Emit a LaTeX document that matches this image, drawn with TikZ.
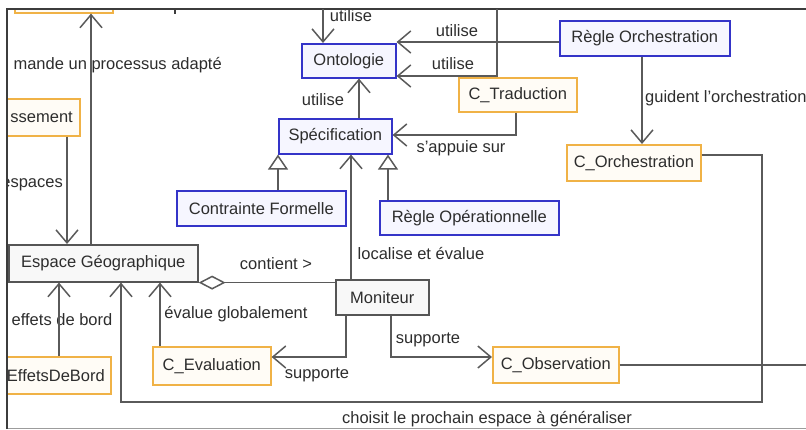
\documentclass[tikz,border=0pt]{standalone}
\usepackage{fontspec}
\setmainfont{Liberation Sans}
\usetikzlibrary{arrows.meta}
\definecolor{blueC}{RGB}{52,52,200}
\definecolor{blueF}{RGB}{246,246,255}
\definecolor{oraC}{RGB}{240,178,70}
\definecolor{oraF}{RGB}{255,252,246}
\definecolor{grayC}{RGB}{85,85,85}
\definecolor{grayF}{RGB}{248,248,248}
\definecolor{lineC}{RGB}{90,90,90}
\definecolor{textC}{RGB}{45,45,45}
\definecolor{frameC}{RGB}{60,60,60}
\tikzset{
  box/.style={draw, line width=1.6pt, inner xsep=7pt, inner ysep=0pt, anchor=north west, text=textC},
  bluebox/.style={box, draw=blueC, fill=blueF},
  orabox/.style={box, draw=oraC, fill=oraF},
  graybox/.style={box, draw=grayC, fill=grayF},
  conn/.style={draw=lineC, line width=1.5pt},
  arr/.style={conn, -{Straight Barb[length=13pt,width=22pt]}},
  inh/.style={conn, -{Triangle[length=15pt,width=20pt,fill=white]}},
  lbl/.style={text=textC, inner sep=0pt}
}
\begin{document}
\begin{tikzpicture}[x=1pt,y=-1pt,font=\fontsize{16.5}{19}\selectfont]
\useasboundingbox (0,0) rectangle (806,429);
% helper coordinates
\coordinate (x59) at (59,0);
\coordinate (x67) at (67,0);
\coordinate (x91) at (91,0);
\coordinate (x121) at (121,0);
\coordinate (x160) at (160,0);
\coordinate (x278) at (278,0);
\coordinate (x323) at (323,0);
\coordinate (x346) at (346,0);
\coordinate (x351) at (351,0);
\coordinate (x359) at (359,0);
\coordinate (x388) at (388,0);
\coordinate (x391) at (391,0);
\coordinate (x497) at (497,0);
\coordinate (x516) at (516,0);
\coordinate (x642) at (642,0);
\coordinate (x762) at (762,0);
\coordinate (x806) at (806,0);
\coordinate (y9) at (0,9);
\coordinate (y42) at (0,42);
\coordinate (y76) at (0,76);
\coordinate (y135) at (0,135);
\coordinate (y155) at (0,155);
\coordinate (y357) at (0,357);
\coordinate (y402) at (0,402);

\begin{scope}
\clip (8,9) rectangle (806,429);
% boxes
\node[orabox, minimum width=98pt, minimum height=42pt] (topbox) at (14,-30) {};
\node[orabox, text width=85pt, align=right, minimum height=37pt] (ssement) at (-20,98) {ssement};
\node[orabox, text width=108pt, align=right, minimum height=37pt, inner xsep=6pt] (effets) at (-10,356) {EffetsDeBord};
\node[graybox, minimum width=189pt, minimum height=37pt] (espace) at (8,244) {Espace Géographique};
\node[graybox, minimum width=93pt, minimum height=35pt] (moniteur) at (335,279) {Moniteur};
\node[bluebox, minimum width=169pt, minimum height=35pt] (contrainte) at (176,190) {Contrainte Formelle};
\node[bluebox, minimum width=113pt, minimum height=35pt] (spec) at (278,118) {Spécification};
\node[bluebox, minimum width=94pt, minimum height=34pt] (onto) at (301,43) {Ontologie};
\node[bluebox, minimum width=179pt, minimum height=34pt] (regop) at (379,200) {Règle Opérationnelle};
\node[bluebox, minimum width=170pt, minimum height=35pt] (regorch) at (559,20) {Règle Orchestration};
\node[orabox, minimum width=118pt, minimum height=34pt] (ctrad) at (458,77) {C\_Traduction};
\node[orabox, minimum width=134pt, minimum height=36pt] (corch) at (566,144) {C\_Orchestration};
\node[orabox, minimum width=126pt, minimum height=36pt] (cobs) at (492,346) {C\_Observation};
\node[orabox, minimum width=118pt, minimum height=38pt] (ceval) at (152,346) {C\_Evaluation};

% labels
\node[lbl, anchor=east] (lmande) at (222,65) {mande un processus adapté};
\node[lbl, anchor=east] (lesp) at (63,185) {espaces};
\node[lbl] (lutil1) at (351,16) {utilise};
\node[lbl] (lutil2) at (457,31) {utilise};
\node[lbl] (lutil3) at (453,64) {utilise};
\node[lbl] (lutil4) at (323,100) {utilise};
\node[lbl] (lappuie) at (461,148) {s'appuie sur};
\node[lbl, anchor=west] (lguident) at (645,98) {guident l'orchestration};
\node[lbl] (lcontient) at (276,264) {contient >};
\node[lbl] (lloc) at (421,253) {localise et évalue};
\node[lbl] (lsup1) at (428,340) {supporte};
\node[lbl] (lsup2) at (317,375) {supporte};
\node[lbl] (leval) at (236,314) {évalue globalement};
\node[lbl] (leffets) at (62,320) {effets de bord};
\node[lbl] (lchoisit) at (487,419) {choisit le prochain espace à généraliser};
\end{scope}

% frame
\draw[lineC!60, line width=1pt] (7,428) -- (806,428);
\draw[frameC, line width=2pt] (7,429) -- (7,9) -- (806,9);
\draw[frameC, line width=1.2pt] (175,9) -- (175,14);

% connectors
\draw[arr] (x91 |- espace.north) -- (x91 |- topbox.south);
\draw[arr] (x67 |- ssement.south) -- (x67 |- espace.north);
\draw[conn, {Diamond[length=27pt,width=14pt,fill=white]}-] (espace.south east) -- (espace.south east -| moniteur.west);
\draw[arr] (x351 |- moniteur.north) -- (x351 |- spec.south);
\draw[arr] (x346 |- moniteur.south) -- (x346 |- y357) -- (ceval.east |- y357);
\draw[arr] (x391 |- moniteur.south) -- (x391 |- y357) -- (cobs.west |- y357);
\draw[arr] (x160 |- ceval.north) -- (x160 |- espace.south);
\draw[arr] (x59 |- effets.north) -- (x59 |- espace.south);
\draw[arr] (corch.east |- y155) -- (x762 |- y155) -- (x762 |- y402) -- (x121 |- y402) -- (x121 |- espace.south);
\draw[conn] (cobs.east) -- (cobs.east -| x806);
\draw[arr] (x642 |- regorch.south) -- (x642 |- corch.north);
\draw[arr] (regorch.west |- y42) -- (onto.east |- y42);
\draw[arr] (x497 |- y9) -- (x497 |- y76) -- (onto.east |- y76);
\draw[arr] (x323 |- y9) -- (x323 |- onto.north);
\draw[arr] (x359 |- spec.north) -- (x359 |- onto.south);
\draw[arr] (x516 |- ctrad.south) -- (x516 |- y135) -- (spec.east |- y135);
\draw[inh] (x278 |- contrainte.north) -- (spec.south west);
\draw[inh] (x388 |- regop.north) -- (x388 |- spec.south);
\end{tikzpicture}
\end{document}
